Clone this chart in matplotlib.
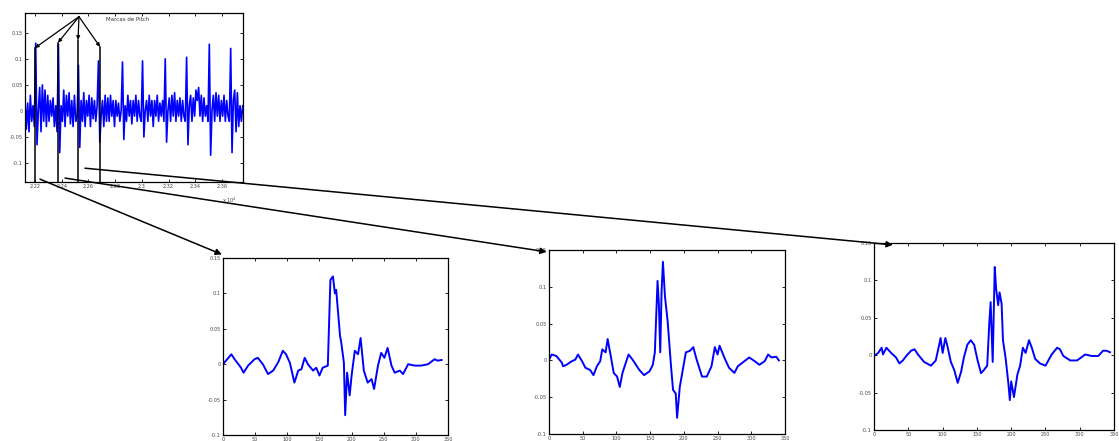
import numpy as np
import matplotlib
matplotlib.use('Agg')
import matplotlib.pyplot as plt
from matplotlib.patches import ConnectionPatch
from matplotlib.ticker import FuncFormatter

# sinal de voz (uma amostra a cada 10, a partir da amostra 22125)
inicio_sinal = 22125
passo_sinal = 10
sinal = [0.02, -0.035, 0.015, -0.04, 0.03, -0.02, 0.01, -0.03,
         0.13,
         -0.065, 0.0, 0.045, -0.04, 0.05, -0.02, 0.04, -0.03, 0.03, -0.02, 0.02, -0.01, 0.025, -0.03, 0.01, -0.04,
         0.128,
         -0.08, 0.01, -0.02, 0.04, -0.03, 0.03, -0.01, 0.035, -0.025, 0.02, -0.03, 0.03, -0.02, -0.01,
         0.088,
         -0.07, 0.02, -0.02, 0.035, -0.03, 0.02, -0.01, 0.03, -0.03, 0.025, -0.015, 0.02, -0.02, 0.01,
         0.096,
         -0.06, -0.01, 0.02, -0.03, 0.03, -0.02, 0.025, -0.02, 0.03, -0.01, 0.02, -0.03, 0.02, -0.01, 0.015, -0.02, 0.0,
         0.094,
         -0.055, 0.01, -0.02, 0.03, -0.01, 0.02, -0.025, 0.02, -0.01, 0.03, -0.02, 0.02, -0.01, -0.02,
         0.096,
         -0.05, 0.0, 0.02, -0.02, 0.03, -0.01, 0.02, -0.03, 0.02, -0.01, 0.03, -0.02, 0.015, -0.01, 0.02, -0.02,
         0.10,
         -0.06, 0.0, 0.025, -0.02, 0.03, -0.01, 0.035, -0.02, 0.02, -0.01, 0.025, -0.02, 0.02, -0.01, -0.02,
         0.103,
         -0.065, 0.01, 0.03, -0.02, 0.025, -0.01, 0.04, 0.02, 0.045, -0.01, 0.03, -0.02, 0.025, -0.01, 0.01, -0.02,
         0.128,
         -0.085, 0.0, 0.03, -0.02, 0.035, -0.01, 0.03, -0.02, 0.02, -0.01, 0.03, -0.02, 0.02, -0.01, -0.02,
         0.12,
         -0.08, 0.02, 0.04, -0.04, 0.035, -0.03, 0.01, -0.02, 0.01]

# marcas de pitch (amostra e topo da linha)
marcas = [22200, 22372, 22522, 22687]
topo_marcas = [0.121, 0.131, 0.1365, 0.123]
origem_setas = (22529, 0.181)

# segmentos extraidos (amostra, amplitude)
seg1_n = [0, 13, 18, 28, 32, 39, 49, 54, 62, 70, 78, 86, 93, 98, 104, 111, 117, 122, 127, 132,
          140, 145, 150, 155, 163, 167, 171, 174, 176, 182, 184, 188, 190, 193, 197, 200, 205, 210,
          214, 219, 225, 231, 235, 241, 246, 251, 256, 262, 267, 275, 280, 288, 298, 308, 319, 329,
          334, 340]
seg1_v = [0.0, 0.014, 0.007, -0.005, -0.012, -0.002, 0.007, 0.009, 0.0, -0.014, -0.009, 0.003,
          0.019, 0.014, 0.002, -0.026, -0.009, -0.007, 0.009, 0.0, -0.009, -0.005, -0.016, -0.005,
          -0.002, 0.119, 0.124, 0.1, 0.105, 0.04, 0.03, 0.002, -0.072, -0.012, -0.044, -0.016, 0.019,
          0.014, 0.037, -0.009, -0.026, -0.021, -0.035, -0.002, 0.016, 0.009, 0.023, -0.002, -0.012,
          -0.009, -0.014, 0.0, -0.002, -0.002, 0.0, 0.007, 0.005, 0.006]

seg2_n = [0, 4, 11, 19, 21, 26, 34, 39, 43, 49, 54, 61, 66, 71, 76, 79, 84, 87, 92, 96, 101, 105,
          109, 114, 118, 124, 129, 134, 141, 149, 154, 157, 161, 163, 165, 167, 169, 172, 176, 181,
          184, 188, 190, 194, 199, 203, 209, 214, 219, 227, 234, 241, 246, 250, 253, 260, 267, 275,
          280, 287, 297, 305, 312, 320, 325, 330, 337, 341]
seg2_v = [0.001, 0.008, 0.006, -0.003, -0.008, -0.006, -0.001, 0.001, 0.008, -0.001, -0.01, -0.013,
          -0.02, -0.008, -0.001, 0.015, 0.011, 0.029, 0.004, -0.017, -0.022, -0.036, -0.017, -0.003,
          0.008, 0.001, -0.006, -0.013, -0.02, -0.015, -0.006, 0.011, 0.108, 0.076, 0.011, 0.094,
          0.134, 0.087, 0.053, -0.008, -0.04, -0.045, -0.078, -0.036, -0.01, 0.011, 0.013, 0.018,
          0.001, -0.022, -0.022, -0.008, 0.018, 0.008, 0.02, 0.004, -0.01, -0.017, -0.008, -0.003,
          0.004, -0.001, -0.006, -0.001, 0.008, 0.004, 0.005, 0.0]

seg3_n = [0, 6, 11, 13, 18, 25, 32, 37, 42, 47, 54, 59, 64, 73, 83, 90, 95, 97, 100, 104, 107, 112,
          117, 122, 127, 131, 136, 141, 146, 151, 156, 160, 165, 168, 170, 173, 176, 178, 181, 183,
          186, 188, 192, 196, 198, 200, 204, 209, 213, 217, 221, 226, 230, 235, 242, 250, 259, 267,
          271, 276, 286, 296, 308, 317, 327, 334, 339, 344]
seg3_v = [-0.001, 0.003, 0.01, 0.001, 0.01, 0.003, -0.003, -0.011, -0.007, -0.001, 0.006, 0.008,
          0.001, -0.009, -0.014, -0.007, 0.014, 0.023, 0.003, 0.023, 0.012, -0.009, -0.02, -0.037,
          -0.022, -0.003, 0.014, 0.02, 0.014, -0.007, -0.024, -0.02, -0.014, 0.042, 0.071, -0.009,
          0.118, 0.089, 0.067, 0.084, 0.069, 0.02, -0.005, -0.039, -0.06, -0.035, -0.056, -0.026,
          -0.014, 0.01, 0.003, 0.02, 0.01, -0.005, -0.011, -0.014, 0.001, 0.01, 0.008, -0.001,
          -0.007, -0.007, 0.001, -0.001, -0.001, 0.006, 0.006, 0.004]

yticks = [-0.1, -0.05, 0, 0.05, 0.1, 0.15]
azul = '#0000ff'


def fmt_y(v, pos):
    return f"{round(v, 3):g}"


def estilo(ax):
    ax.tick_params(direction='in', top=True, right=True, length=2.5, width=0.6,
                   labelsize=3.6, labelcolor='#444444', pad=1.5)
    for s in ax.spines.values():
        s.set_linewidth(0.9)
    ax.yaxis.set_major_formatter(FuncFormatter(fmt_y))


fig = plt.figure(figsize=(11.19, 4.41), dpi=100)

# grafico principal
ax0 = fig.add_axes([0.02234, 0.5873, 0.1948, 0.3832])
n = inicio_sinal + passo_sinal * np.arange(len(sinal))
ax0.plot(n, sinal, color=azul, lw=1.2)
ax0.set_xlim(22125, 23757)
ax0.set_ylim(-0.1365, 0.188)
ax0.set_xticks([22200, 22400, 22600, 22800, 23000, 23200, 23400, 23600])
ax0.xaxis.set_major_formatter(FuncFormatter(lambda v, p: f"{v / 1e4:g}"))
ax0.set_yticks(yticks)
estilo(ax0)
ax0.text(0.94, -0.11, r'x 10$^4$', transform=ax0.transAxes, fontsize=3.6,
         color='#444444', ha='center', va='center')
ax0.text(22895, 0.175, 'Marcas de Pitch', fontsize=4, color='#333333',
         ha='center', va='center')

for m, t in zip(marcas, topo_marcas):
    ax0.plot([m, m], [-0.1365, t], color='black', lw=1.1, clip_on=False)
    ax0.annotate('', xy=(m, t), xytext=origem_setas,
                 arrowprops=dict(arrowstyle='-|>', color='black', lw=0.9,
                                 mutation_scale=5, shrinkA=0, shrinkB=0))

# segmentos
posicoes = [[0.1993, 0.01361, 0.2011, 0.4014],
            [0.4906, 0.01587, 0.2109, 0.4172],
            [0.7811, 0.02494, 0.2145, 0.4240]]
segmentos = [(seg1_n, seg1_v), (seg2_n, seg2_v), (seg3_n, seg3_v)]
inicio_conexao = [(22237, -0.131), (22425, -0.129), (22574, -0.11)]
fim_conexao = [(-0.005, 1.02), (-0.01, 0.99), (0.078, 0.99)]

for pos, (sn, sv), a, b in zip(posicoes, segmentos, inicio_conexao, fim_conexao):
    ax = fig.add_axes(pos)
    ax.plot(sn, sv, color=azul, lw=1.4)
    ax.set_xlim(0, 350)
    ax.set_ylim(-0.1, 0.15)
    ax.set_xticks(range(0, 351, 50))
    ax.set_yticks(yticks)
    estilo(ax)
    con = ConnectionPatch(xyA=a, coordsA=ax0.transData, xyB=b, coordsB=ax.transAxes,
                          arrowstyle='-|>', color='black', lw=1.1, mutation_scale=9,
                          shrinkA=0, shrinkB=0)
    fig.add_artist(con)

fig.savefig('out.png', dpi=100)
